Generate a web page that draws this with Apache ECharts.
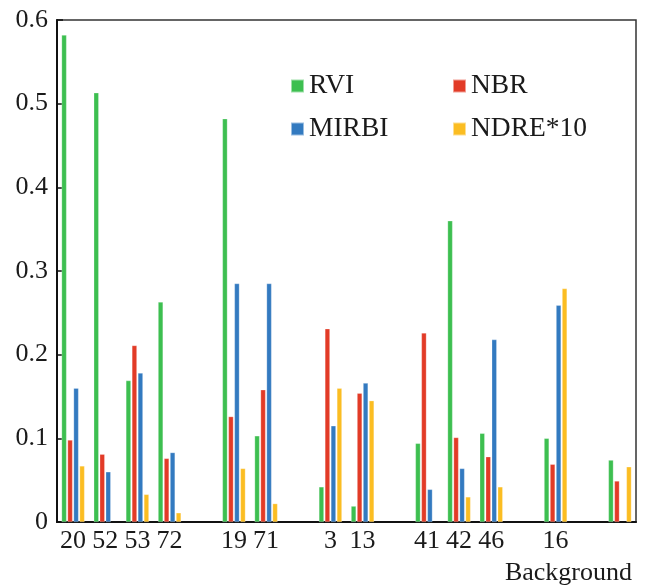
<!DOCTYPE html>
<html><head><meta charset="utf-8">
<script src="https://cdn.jsdelivr.net/npm/echarts@6/dist/echarts.min.js"></script>
<style>html,body{margin:0;padding:0;background:#fff}#c{width:645px;height:586px}</style>
</head><body><div id="c"></div>
<script>
const categories = ['20','52','53','72','','19','71','','3','13','','41','42','46','','16','','Background'];
const rvi   = [0.582,0.513,0.169,0.263,null,0.482,0.103,null,0.042,0.019,null,0.094,0.360,0.106,null,0.100,null,0.074];
const nbr   = [0.098,0.081,0.211,0.076,null,0.126,0.158,null,0.231,0.154,null,0.226,0.101,0.078,null,0.069,null,0.049];
const mirbi = [0.160,0.060,0.178,0.083,null,0.285,0.285,null,0.115,0.166,null,0.039,0.064,0.218,null,0.259,null,null];
const ndre  = [0.067,null,0.033,0.011,null,0.064,0.022,null,0.160,0.145,null,null,0.030,0.042,null,0.279,null,0.066];
const yTicks = [0,0.1,0.2,0.3,0.4,0.5,0.6];

const FONT = "'Liberation Serif', 'Times New Roman', Times, serif";
const colors = {RVI:'#3dbf50', NBR:'#e23b27', MIRBI:'#337ac0', 'NDRE*10':'#fbbd22'};
function mk(name, data){
  return {name, type:'bar', data, barWidth:5, barGap:'20%',
    itemStyle:{color:colors[name], borderColor:'rgba(255,255,255,0.5)', borderWidth:0.5}};
}
const legendBase = {orient:'vertical', top:71, padding:0, itemWidth:13, itemHeight:13, itemGap:13,
  icon:'rect', textStyle:{fontFamily:FONT, fontSize:27.5, color:'#1a1a1a', lineHeight:30}};
const chart = echarts.init(document.getElementById('c'), null, {renderer:'canvas'});
chart.setOption({
  animation:false,
  textStyle:{fontFamily:FONT},
  grid:{left:57, top:20, right:9, bottom:64, show:true, borderColor:'#333', borderWidth:1.5, backgroundColor:'transparent'},
  legend:[
    Object.assign({data:['RVI','MIRBI'], left:290}, legendBase),
    Object.assign({data:['NBR','NDRE*10'], left:452}, legendBase)
  ],
  xAxis:{type:'category', data:categories,
    axisLine:{lineStyle:{color:'#111', width:2}},
    axisTick:{show:false},
    axisLabel:{interval:0, margin:6, fontFamily:FONT, fontSize:26, color:'#1a1a1a',
      formatter:v => v === 'Background' ? '{bg|' + v + '}' : v,
      rich:{bg:{fontFamily:FONT, fontSize:26, color:'#1a1a1a', width:230, align:'left', padding:[32,0,0,0]}}}
  },
  yAxis:{type:'value', min:0, max:0.6, interval:0.1,
    axisLine:{show:true, lineStyle:{color:'#111', width:2}},
    axisTick:{show:true, inside:true, length:6, lineStyle:{color:'#111', width:1.5}},
    axisLabel:{margin:9, fontFamily:FONT, fontSize:26, color:'#1a1a1a',
      formatter:v => { const t = yTicks.find(x => Math.abs(x - v) < 1e-9); return t === 0 ? '0' : String(t); }},
    splitLine:{show:false}
  },
  series:[mk('RVI', rvi), mk('NBR', nbr), mk('MIRBI', mirbi), mk('NDRE*10', ndre)]
});
</script></body></html>
